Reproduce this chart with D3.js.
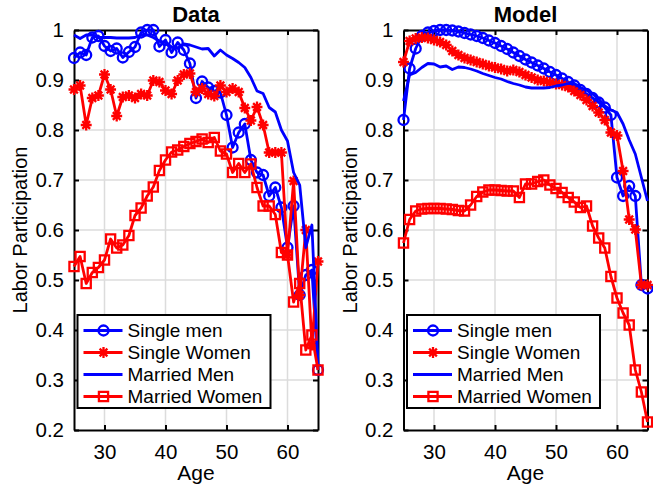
<!DOCTYPE html>
<html><head><meta charset="utf-8">
<script src="https://cdn.jsdelivr.net/npm/d3@7"></script>
<style>body{margin:0;background:#fff} svg{display:block}</style>
</head><body>
<script>
// ---------- data ----------
const ages = [25,26,27,28,29,30,31,32,33,34,35,36,37,38,39,40,41,42,43,44,45,46,47,48,49,50,51,52,53,54,55,56,57,58,59,60,61,62,63,64,65];

const dataSingleMen = [0.944,0.955,0.950,0.985,0.988,0.968,0.958,0.963,0.945,0.956,0.966,0.995,1.000,1.000,0.967,0.980,0.955,0.975,0.960,0.933,0.864,0.897,0.885,0.878,0.875,0.830,0.765,0.795,0.812,0.740,0.715,0.710,0.668,0.685,0.645,0.565,0.648,0.470,0.510,0.520,0.320];
const dataSingleWomen = [0.881,0.889,0.810,0.864,0.869,0.911,0.881,0.828,0.866,0.869,0.864,0.872,0.869,0.899,0.896,0.879,0.872,0.899,0.911,0.913,0.876,0.883,0.872,0.868,0.889,0.876,0.883,0.876,0.844,0.819,0.846,0.810,0.755,0.755,0.755,0.550,0.698,0.470,0.600,0.370,0.537];
const dataMarriedMen = [0.990,0.983,0.990,0.990,0.985,0.985,0.985,0.984,0.984,0.984,0.985,0.990,0.990,0.985,0.978,0.975,0.966,0.963,0.972,0.970,0.966,0.962,0.963,0.948,0.960,0.950,0.943,0.935,0.925,0.905,0.878,0.873,0.845,0.836,0.800,0.778,0.715,0.690,0.565,0.610,0.330];
const dataMarriedWomen = [0.527,0.547,0.493,0.515,0.525,0.540,0.582,0.564,0.570,0.589,0.629,0.644,0.668,0.686,0.719,0.740,0.756,0.760,0.767,0.773,0.777,0.782,0.775,0.785,0.758,0.752,0.715,0.733,0.715,0.732,0.685,0.648,0.648,0.631,0.555,0.550,0.456,0.493,0.360,0.390,0.320];

const modelSingleMen = [0.820,0.923,0.963,0.988,0.995,0.998,1.000,1.000,0.999,0.997,0.994,0.991,0.988,0.984,0.979,0.974,0.968,0.962,0.955,0.948,0.941,0.935,0.929,0.923,0.916,0.910,0.903,0.896,0.889,0.880,0.872,0.864,0.855,0.845,0.830,0.705,0.668,0.688,0.668,0.490,0.483];
const modelSingleWomen = [0.936,0.978,0.983,0.985,0.984,0.980,0.976,0.970,0.958,0.950,0.944,0.940,0.936,0.932,0.928,0.925,0.922,0.918,0.920,0.916,0.910,0.905,0.900,0.898,0.895,0.892,0.890,0.886,0.878,0.870,0.860,0.848,0.835,0.820,0.795,0.789,0.718,0.621,0.601,0.490,0.490];
const modelMarriedMen = [0.858,0.910,0.915,0.925,0.933,0.932,0.926,0.928,0.921,0.926,0.925,0.922,0.918,0.913,0.909,0.905,0.902,0.897,0.893,0.890,0.886,0.884,0.884,0.884,0.885,0.888,0.890,0.893,0.893,0.885,0.880,0.872,0.862,0.848,0.840,0.835,0.812,0.780,0.752,0.705,0.658];
const modelMarriedWomen = [0.574,0.621,0.638,0.642,0.643,0.643,0.643,0.642,0.641,0.639,0.638,0.650,0.667,0.676,0.680,0.680,0.679,0.678,0.678,0.665,0.692,0.692,0.697,0.700,0.690,0.683,0.675,0.665,0.656,0.645,0.648,0.608,0.584,0.564,0.507,0.464,0.434,0.410,0.320,0.276,0.216];

const seriesNames = ["Single men","Single Women","Married Men","Married Women"];
const panelTitles = ["Data","Model"];
const yTicks = [0.2,0.3,0.4,0.5,0.6,0.7,0.8,0.9,1];
const yTickLabels = ["0.2","0.3","0.4","0.5","0.6","0.7","0.8","0.9","1"];
const xTicks = [30,40,50,60];
const xTickLabels = ["30","40","50","60"];
const xLabel = "Age";
const yLabel = "Labor Participation";

// ---------- layout / style ----------
const W = 653, H = 490;
const FONT = "'Liberation Sans', Arial, Helvetica, sans-serif";
const BLUE = "#0000ff", RED = "#ff0000";
const plotTop = 30, plotBottom = 430;
const panels = [
  {title: panelTitles[0], x0: 74, x1: 318, series: [dataSingleMen, dataSingleWomen, dataMarriedMen, dataMarriedWomen]},
  {title: panelTitles[1], x0: 403.5, x1: 647.5, series: [modelSingleMen, modelSingleWomen, modelMarriedMen, modelMarriedWomen]}
];

const asteriskSymbol = {
  draw(ctx, size) {
    const r = Math.sqrt(size) / 2, d = r * Math.SQRT1_2;
    ctx.moveTo(-r, 0); ctx.lineTo(r, 0);
    ctx.moveTo(0, -r); ctx.lineTo(0, r);
    ctx.moveTo(-d, -d); ctx.lineTo(d, d);
    ctx.moveTo(-d, d); ctx.lineTo(d, -d);
  }
};
const styles = [
  {color: BLUE, symbol: d3.symbolCircle, size: 78},
  {color: RED, symbol: asteriskSymbol, size: 120},
  {color: BLUE, symbol: null, size: 0},
  {color: RED, symbol: d3.symbolSquare, size: 84}
];

const svg = d3.select("body").append("svg").attr("width", W).attr("height", H)
  .style("font-family", FONT);
svg.append("rect").attr("width", W).attr("height", H).attr("fill", "#fff");

const y = d3.scaleLinear().domain([0.2, 1]).range([plotBottom, plotTop]);

panels.forEach(p => {
  const x = d3.scaleLinear().domain([25, 65]).range([p.x0, p.x1]);
  const g = svg.append("g");

  // grid
  g.append("g").selectAll("line").data(yTicks.slice(1, -1)).join("line")
    .attr("x1", p.x0).attr("x2", p.x1).attr("y1", d => y(d)).attr("y2", d => y(d))
    .attr("stroke", "#dcdcdc").attr("stroke-width", 1.5);
  g.append("g").selectAll("line").data(xTicks).join("line")
    .attr("y1", plotTop).attr("y2", plotBottom).attr("x1", d => x(d)).attr("x2", d => x(d))
    .attr("stroke", "#dcdcdc").attr("stroke-width", 1.5);

  // axes (ticks inside, box)
  const fmtY = d => yTickLabels[yTicks.indexOf(d)];
  const fmtX = d => xTickLabels[xTicks.indexOf(d)];
  const left = g.append("g").attr("transform", `translate(${p.x0},0)`)
    .call(d3.axisLeft(y).tickValues(yTicks).tickFormat(fmtY).tickSizeInner(-5).tickSizeOuter(0).tickPadding(10));
  const right = g.append("g").attr("transform", `translate(${p.x1},0)`)
    .call(d3.axisRight(y).tickValues(yTicks).tickFormat("").tickSizeInner(-5).tickSizeOuter(0));
  const bot = g.append("g").attr("transform", `translate(0,${plotBottom})`)
    .call(d3.axisBottom(x).tickValues(xTicks).tickFormat(fmtX).tickSizeInner(-5).tickSizeOuter(0).tickPadding(14));
  const topAx = g.append("g").attr("transform", `translate(0,${plotTop})`)
    .call(d3.axisTop(x).tickValues(xTicks).tickFormat("").tickSizeInner(-5).tickSizeOuter(0));
  [left, right, bot, topAx].forEach(a => {
    a.select(".domain").attr("stroke", "#000").attr("stroke-width", 2);
    a.selectAll(".tick line").attr("stroke", "#000").attr("stroke-width", 2);
    a.selectAll("text").attr("font-size", 20.5).attr("font-family", FONT).attr("fill", "#000");
  });

  // series
  p.series.forEach((vals, si) => {
    const st = styles[si];
    const pts = ages.map((a, i) => [a, vals[i]]);
    g.append("path").datum(pts)
      .attr("d", d3.line().x(d => x(d[0])).y(d => y(d[1])))
      .attr("fill", "none").attr("stroke", st.color).attr("stroke-width", 2.8)
      .attr("stroke-linejoin", "round");
    if (st.symbol) {
      g.append("g").selectAll("path").data(pts).join("path")
        .attr("transform", d => `translate(${x(d[0])},${y(d[1])})`)
        .attr("d", d3.symbol(st.symbol, st.size))
        .attr("fill", "none").attr("stroke", st.color).attr("stroke-width", 2.3);
    }
  });

  // title
  svg.append("text").attr("x", (p.x0 + p.x1) / 2).attr("y", 22)
    .attr("text-anchor", "middle").attr("font-weight", "bold").attr("font-size", 22).text(p.title);
  // x label
  svg.append("text").attr("x", (p.x0 + p.x1) / 2).attr("y", 480)
    .attr("text-anchor", "middle").attr("font-size", 21).text(xLabel);
  // y label
  svg.append("text").attr("transform", `translate(${p.x0 - 47},${(plotTop + plotBottom) / 2}) rotate(-90)`)
    .attr("text-anchor", "middle").attr("font-size", 20).text(yLabel);

  // legend
  const lx = p.x0 + 3.5, ly = 315, lw = 193, lh = 93;
  const leg = svg.append("g");
  leg.append("rect").attr("x", lx).attr("y", ly).attr("width", lw).attr("height", lh)
    .attr("fill", "#fff").attr("stroke", "#000").attr("stroke-width", 2);
  seriesNames.forEach((name, i) => {
    const st = styles[i];
    const ry = ly + 15.5 + i * 22;
    leg.append("line").attr("x1", lx + 6).attr("x2", lx + 45).attr("y1", ry).attr("y2", ry)
      .attr("stroke", st.color).attr("stroke-width", 2.8);
    if (st.symbol) {
      leg.append("path").attr("transform", `translate(${lx + 26},${ry})`)
        .attr("d", d3.symbol(st.symbol, st.size)).attr("fill", "none")
        .attr("stroke", st.color).attr("stroke-width", 2.3);
    }
    leg.append("text").attr("x", lx + 50).attr("y", ry).attr("dy", "0.35em")
      .attr("font-size", 19).text(name);
  });
});
</script>
</body></html>
